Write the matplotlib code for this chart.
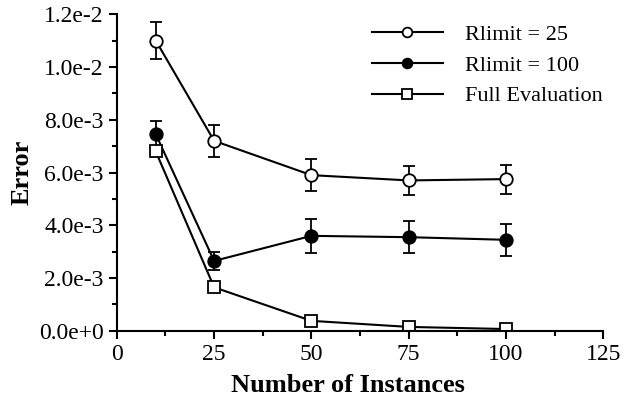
import matplotlib
matplotlib.use('Agg')
import matplotlib.pyplot as plt
from matplotlib.lines import Line2D
from matplotlib.ticker import MultipleLocator, FuncFormatter

# Data
instances = [10, 25, 50, 75, 100]

rlimit25 = [1.10e-2, 7.2e-3, 5.9e-3, 5.7e-3, 5.75e-3]
rlimit25_err = [0.7e-3, 0.6e-3, 0.6e-3, 0.55e-3, 0.55e-3]

rlimit100 = [7.45e-3, 2.65e-3, 3.6e-3, 3.55e-3, 3.45e-3]
rlimit100_err = [0.5e-3, 0.35e-3, 0.65e-3, 0.6e-3, 0.6e-3]

full_eval = [6.8e-3, 1.65e-3, 0.38e-3, 0.15e-3, 0.07e-3]
full_eval_err = [0.15e-3, 0.1e-3, 0.08e-3, 0.05e-3, 0.05e-3]

labels = ['Rlimit = 25', 'Rlimit = 100', 'Full Evaluation']

plt.rcParams['font.family'] = ['Liberation Serif', 'DejaVu Serif']

fig = plt.figure(figsize=(6.35, 4.04), dpi=100)
ax = fig.add_axes([0.184, 0.181, 0.766, 0.784])

common = dict(color='black', lw=1.5, ms=9, capsize=4, elinewidth=1.3, capthick=1.3, mew=1.3)
ax.errorbar(instances, rlimit25, yerr=rlimit25_err, marker='o', mfc='white', **common)
ax.errorbar(instances, rlimit100, yerr=rlimit100_err, marker='o', mfc='black', **common)
ax.errorbar(instances, full_eval, yerr=full_eval_err, marker='s', mfc='white', **common)

ax.set_xlim(0, 125)
ax.set_ylim(0, 0.012)
ax.xaxis.set_major_locator(MultipleLocator(25))
ax.xaxis.set_minor_locator(MultipleLocator(12.5))
ax.yaxis.set_major_locator(MultipleLocator(0.002))
ax.yaxis.set_minor_locator(MultipleLocator(0.001))


def sci_fmt(v, pos):
    if v == 0:
        return '0.0e+0'
    s = f'{v:.1e}'
    mant, exp = s.split('e')
    return f'{mant}e{int(exp)}'


ax.yaxis.set_major_formatter(FuncFormatter(sci_fmt))

for side in ['top', 'right']:
    ax.spines[side].set_visible(False)
for side in ['left', 'bottom']:
    ax.spines[side].set_linewidth(1.5)

ax.tick_params(which='major', direction='out', length=6, width=1.5, labelsize=17)
ax.tick_params(which='minor', direction='out', length=3.5, width=1.5)

ax.set_xlabel('Number of Instances', fontsize=19, fontweight='bold')
ax.xaxis.set_label_coords(0.475, -0.135)
ax.set_ylabel('Error', fontsize=19, fontweight='bold', labelpad=4)

# legend without error bars
handles = [
    Line2D([], [], color='black', lw=1.5, marker='o', ms=7, mfc='white', mew=1.3),
    Line2D([], [], color='black', lw=1.5, marker='o', ms=7, mfc='black', mew=1.3),
    Line2D([], [], color='black', lw=1.5, marker='s', ms=7, mfc='white', mew=1.3),
]
ax.legend(handles, labels, loc='upper right', frameon=False, fontsize=16, handlelength=3.2,
          bbox_to_anchor=(1.04, 1.03), labelspacing=0.45, handletextpad=1.0)

plt.savefig('out.png', dpi=100)
plt.close()
